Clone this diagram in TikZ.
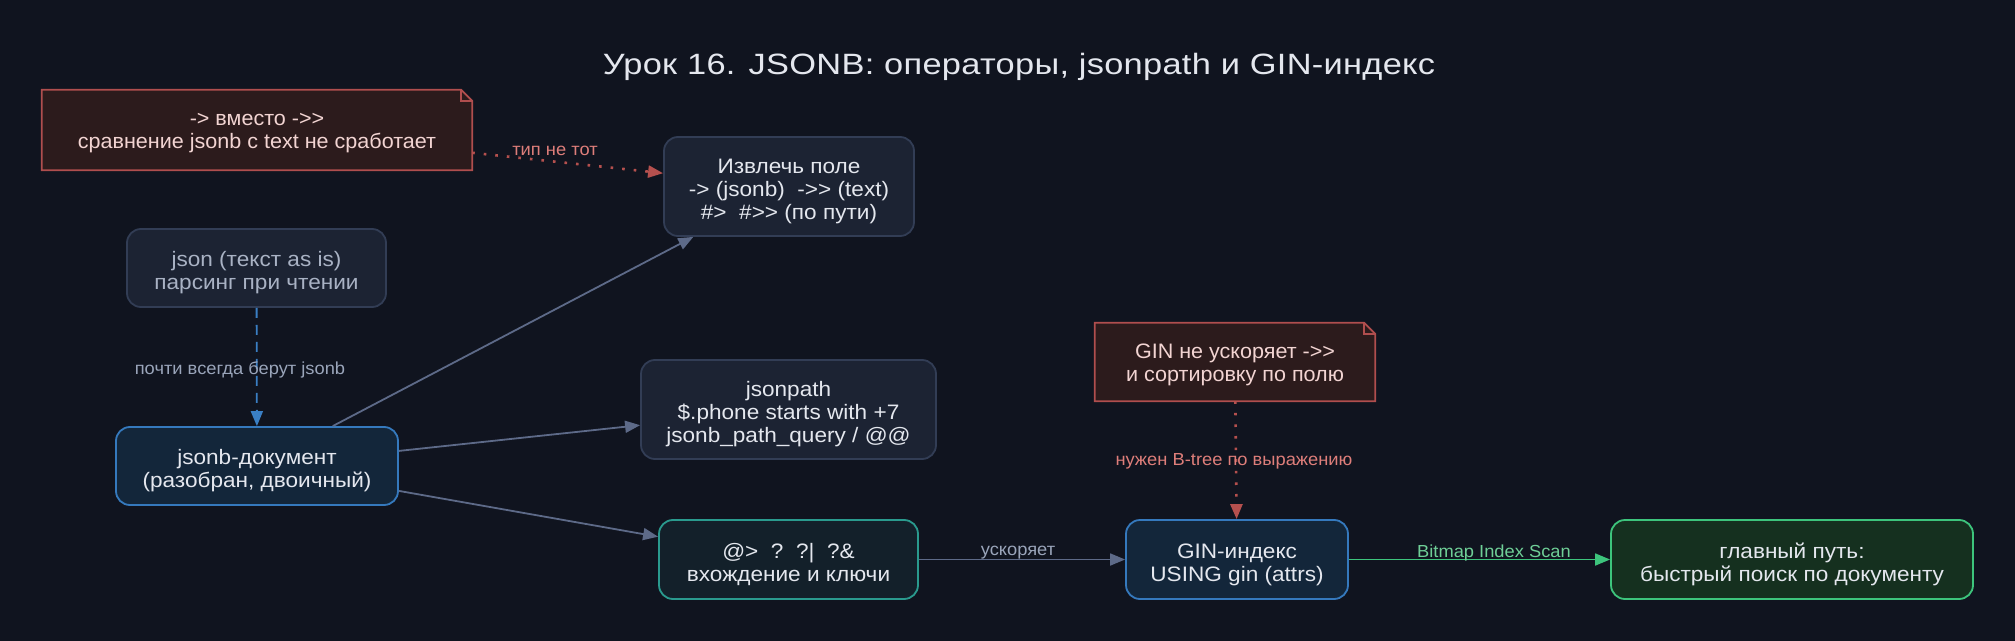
\documentclass[tikz,border=0pt]{standalone}
\usepackage{fontspec}
\setmainfont{Liberation Sans}[Ligatures=TeXOff, FakeStretch=1.08]
\newfontfamily\titlefont{Liberation Sans}[Ligatures=TeXOff, FakeStretch=1.17, LetterSpace=1]
\newfontfamily\lblfont{Liberation Sans}[Ligatures=TeXOff, FakeStretch=1.05]
\newfontfamily\notefont{Liberation Sans}[Ligatures=TeXOff, FakeStretch=1.03]
\usetikzlibrary{arrows.meta}
\definecolor{bg}{HTML}{10141F}
\definecolor{grayfill}{HTML}{1C2333}
\definecolor{graydraw}{HTML}{323D55}
\definecolor{bluefill}{HTML}{13263A}
\definecolor{bluedraw}{HTML}{3579BD}
\definecolor{tealfill}{HTML}{13202A}
\definecolor{tealdraw}{HTML}{2A9A8E}
\definecolor{greenfill}{HTML}{15301F}
\definecolor{greendraw}{HTML}{3DC47C}
\definecolor{notefill}{HTML}{2C1B1C}
\definecolor{notedraw}{HTML}{B04E4E}
\definecolor{txt}{HTML}{E4E7EE}
\definecolor{txtgray}{HTML}{A9B2C4}
\definecolor{notetxt}{HTML}{F2D4D2}
\definecolor{edgegray}{HTML}{5D6A88}
\definecolor{lblgray}{HTML}{9AA5BA}
\definecolor{lblred}{HTML}{DE7E7A}
\definecolor{lblgreen}{HTML}{6FCF97}
\definecolor{edgered}{HTML}{B5504E}
\definecolor{edgeblue}{HTML}{3A7FC4}
\definecolor{edgegreen}{HTML}{3DC47C}
\newcommand{\tstrut}{\rule{0pt}{25bp}}
\tikzset{
  base/.style={rounded corners=14bp, line width=1.8bp, align=center, inner sep=0pt,
    font=\fontsize{21}{23}\selectfont, text=txt},
  graybox/.style={base, fill=grayfill, draw=graydraw},
  bluebox/.style={base, fill=bluefill, draw=bluedraw},
  tealbox/.style={base, fill=tealfill, draw=tealdraw},
  greenbox/.style={base, fill=greenfill, draw=greendraw},
  notebox/.style={align=center, inner sep=0pt, font=\notefont\fontsize{21}{23}\selectfont, text=notetxt},
  lbl/.style={font=\lblfont\fontsize{17.5}{19}\selectfont, inner sep=1bp},
  conn/.style={line width=1.8bp},
  dotline/.style={line width=2.6bp, dash pattern=on 2.6bp off 9bp},
  tip/.style={-{Triangle[length=15bp,width=12bp,fill=#1]}},
}
\newcommand{\notedraw}[1]{%
  \draw[line width=1.8bp, draw=notedraw, fill=notefill]
    (#1.north west) -- ([xshift=-11bp]#1.north east) -- ([yshift=-11bp]#1.north east)
    -- (#1.south east) -- (#1.south west) -- cycle;
  \draw[line width=1.8bp, draw=notedraw]
    ([xshift=-11bp]#1.north east) -- ([xshift=-11bp,yshift=-11bp]#1.north east) -- ([yshift=-11bp]#1.north east);
}
\begin{document}
\begin{tikzpicture}[x=1bp,y=-1bp]
\fill[bg] (0,0) rectangle (2015,641);
\useasboundingbox (0,0) rectangle (2015,641);

\node[text=txt, font=\titlefont\fontsize{29.5}{32}\selectfont] (title) at (1019,67) {Урок 16. JSONB: операторы, jsonpath и GIN-индекс};

% note frames (placeholders sized, text drawn after the frame)
\path node[minimum width=430bp, minimum height=80bp, inner sep=0pt] (n1) at (257,130) {};
\path node[minimum width=280bp, minimum height=78bp, inner sep=0pt] (n2) at (1235,362) {};
\notedraw{n1}
\notedraw{n2}
\node[notebox] (n1t) at ([yshift=-3bp]n1.center) {-> вместо ->>\\сравнение jsonb с text не сработает};
\node[notebox] (n2t) at ([yshift=-3bp]n2.center) {GIN не ускоряет ->>\\и сортировку по полю};

\node[graybox, minimum width=250bp, minimum height=99bp] (ext) at (789,186.5) {\tstrut Извлечь поле\\-> (jsonb)~~->> (text)\\\#>~~\#>> (по пути)};
\node[graybox, minimum width=259bp, minimum height=78bp, text=txtgray] (json) at (256.5,268) {\tstrut json (текст as is)\\парсинг при чтении};
\node[bluebox, minimum width=282bp, minimum height=78bp] (jsonb) at (257,466) {\tstrut jsonb-документ\\(разобран, двоичный)};
\node[graybox, minimum width=295bp, minimum height=99bp] (jp) at (788.5,409.5) {\tstrut jsonpath\\\$.phone starts with +7\\jsonb\_path\_query / @@};
\node[tealbox, minimum width=259bp, minimum height=79bp] (ops) at (788.5,559.5) {\tstrut @>~~?~~?|~~?\&\\вхождение и ключи};
\node[bluebox, minimum width=222bp, minimum height=79bp] (gin) at (1237,559.5) {\tstrut GIN-индекс\\USING gin (attrs)};
\node[greenbox, minimum width=362bp, minimum height=79bp] (main) at (1792,559.5) {\tstrut главный путь:\\быстрый поиск по документу};

% connectors
\draw[dotline, draw=edgered, tip=edgered] (n1) -- (ext);
\node[lbl, text=lblred] (l1) at (555,151) {тип не тот};

\draw[conn, draw=edgeblue, dash pattern=on 10bp off 7bp, tip=edgeblue] (json) -- (jsonb);
\node[lbl, text=lblgray] (l2) at (240,370) {почти всегда берут jsonb};

\draw[conn, draw=edgegray, tip=edgegray] (jsonb) -- (ext);
\draw[conn, draw=edgegray, tip=edgegray] (jsonb) -- (jp);
\draw[conn, draw=edgegray, tip=edgegray] (jsonb) -- (ops);
\draw[conn, draw=edgegray, tip=edgegray] (ops) -- (gin);
\node[lbl, text=lblgray] (l3) at (1018,553) {ускоряет};

\draw[dotline, draw=edgered, tip=edgered] (n2) -- (gin);
\node[lbl, text=lblred] (l4) at (1234,461) {нужен B-tree по выражению};

\draw[conn, draw=edgegreen, tip=edgegreen] (gin) -- (main);
\node[lbl, text=lblgreen] (l5) at (1494,553) {Bitmap Index Scan};
\end{tikzpicture}
\end{document}
